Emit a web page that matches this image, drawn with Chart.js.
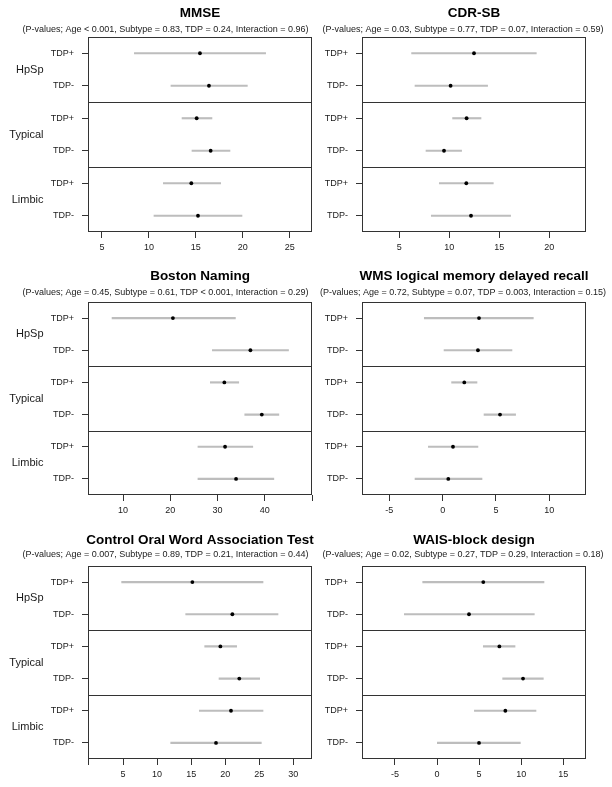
<!DOCTYPE html>
<html><head><meta charset="utf-8">
<script src="https://cdn.jsdelivr.net/npm/chart.js@4.4.1/dist/chart.umd.min.js"></script>
<style>
html,body{margin:0;padding:0;background:#fff;}
body{width:612px;height:787px;position:relative;overflow:hidden;}
canvas{position:absolute;}
</style></head><body>
<canvas id="c0" width="320" height="262" style="left:0;top:0"></canvas>
<canvas id="c1" width="292" height="262" style="left:320px;top:0"></canvas>
<canvas id="c2" width="320" height="262" style="left:0;top:262px"></canvas>
<canvas id="c3" width="292" height="262" style="left:320px;top:262px"></canvas>
<canvas id="c4" width="320" height="263" style="left:0;top:524px"></canvas>
<canvas id="c5" width="292" height="263" style="left:320px;top:524px"></canvas>
<script>
// ---------- data ----------
const rowLabels = ['TDP+', 'TDP-', 'TDP+', 'TDP-', 'TDP+', 'TDP-'];
const groupLabels = ['HpSp', 'Typical', 'Limbic'];

const mmseTitle = 'MMSE';
const mmseP = '(P-values; Age < 0.001, Subtype = 0.83, TDP = 0.24, Interaction = 0.96)';
const mmseMean = [15.44, 16.40, 15.09, 16.58, 14.52, 15.23];
const mmseLow  = [8.45, 12.35, 13.53, 14.59, 11.54, 10.54];
const mmseHigh = [22.44, 20.49, 16.72, 18.64, 17.65, 19.92];
const mmseTicks = [5, 10, 15, 20, 25];
const mmseTickLabels = ['5', '10', '15', '20', '25'];
const mmseRange = [3.51, 27.38];

const cdrTitle = 'CDR-SB';
const cdrP = '(P-values; Age = 0.03, Subtype = 0.77, TDP = 0.07, Interaction = 0.59)';
const cdrMean = [12.47, 10.13, 11.73, 9.47, 11.70, 12.17];
const cdrLow  = [6.23, 6.57, 10.33, 7.67, 9.00, 8.20];
const cdrHigh = [18.70, 13.83, 13.17, 11.23, 14.40, 16.13];
const cdrTicks = [5, 10, 15, 20];
const cdrTickLabels = ['5', '10', '15', '20'];
const cdrRange = [1.27, 23.67];

const bntTitle = 'Boston Naming';
const bntP = '(P-values; Age = 0.45, Subtype = 0.61, TDP < 0.001, Interaction = 0.29)';
const bntMean = [20.55, 36.96, 31.44, 39.37, 31.59, 33.92];
const bntLow  = [7.66, 28.90, 28.47, 35.76, 25.85, 25.85];
const bntHigh = [33.78, 45.03, 34.49, 42.98, 37.46, 41.92];
const bntTicks = [10, 20, 30, 40, 50];
const bntTickLabels = ['10', '20', '30', '40', ''];
const bntRange = [2.57, 50];

const wmsTitle = 'WMS logical memory delayed recall';
const wmsP = '(P-values; Age = 0.72, Subtype = 0.07, TDP = 0.003, Interaction = 0.15)';
const wmsMean = [3.41, 3.31, 2.03, 5.38, 0.97, 0.53];
const wmsLow  = [-1.72, 0.13, 0.84, 3.88, -1.34, -2.59];
const wmsHigh = [8.50, 6.50, 3.22, 6.84, 3.31, 3.69];
const wmsTicks = [-5, 0, 5, 10];
const wmsTickLabels = ['-5', '0', '5', '10'];
const wmsRange = [-7.56, 13.44];

const cowatTitle = 'Control Oral Word Association Test';
const cowatP = '(P-values; Age = 0.007, Subtype = 0.89, TDP = 0.21, Interaction = 0.44)';
const cowatMean = [15.18, 21.05, 19.29, 22.07, 20.85, 18.65];
const cowatLow  = [4.80, 14.20, 16.99, 19.09, 16.20, 12.00];
const cowatHigh = [25.55, 27.75, 21.68, 25.06, 25.55, 25.30];
const cowatTicks = [0, 5, 10, 15, 20, 25, 30];
const cowatTickLabels = ['', '5', '10', '15', '20', '25', '30'];
const cowatRange = [-0.14, 32.74];

const waisTitle = 'WAIS-block design';
const waisP = '(P-values; Age = 0.02, Subtype = 0.27, TDP = 0.29, Interaction = 0.18)';
const waisMean = [5.50, 3.80, 7.41, 10.22, 8.12, 4.99];
const waisLow  = [-1.70, -3.88, 5.50, 7.80, 4.44, 0.04];
const waisHigh = [12.71, 11.56, 9.27, 12.63, 11.76, 9.90];
const waisTicks = [-5, 0, 5, 10, 15];
const waisTickLabels = ['-5', '0', '5', '10', '15'];
const waisRange = [-8.91, 17.70];

// ---------- drawing ----------
const FONT = "'Liberation Sans', Arial, Helvetica, sans-serif";
const INK = '#1a1a1a';

const decorPlugin = {
  id: 'decor',
  afterDraw(chart, args, o) {
    const ctx = chart.ctx;
    const a = chart.chartArea;
    const y = chart.scales.y;
    ctx.save();
    ctx.strokeStyle = '#333';
    ctx.lineWidth = 1;
    const L = Math.round(a.left) + 0.5, R = Math.round(a.right) - 0.5;
    const T = Math.round(a.top) + 0.5, B = Math.round(a.bottom) - 0.5;
    ctx.strokeRect(L, T, R - L, B - T);
    for (let g = 1; g < groupLabels.length; g++) {
      const py = Math.round(y.getPixelForValue(2 * g - 0.5)) + 0.5;
      ctx.beginPath(); ctx.moveTo(L, py); ctx.lineTo(R, py); ctx.stroke();
    }
    ctx.fillStyle = INK;
    if (o.groups) {
      ctx.font = '11px ' + FONT;
      ctx.textAlign = 'right';
      ctx.textBaseline = 'middle';
      groupLabels.forEach((lab, g) => {
        ctx.fillText(lab, a.left - o.groupGap, y.getPixelForValue(2 * g + 0.5));
      });
    }
    const cx = (a.left + a.right) / 2;
    ctx.textAlign = 'center';
    ctx.textBaseline = 'middle';
    ctx.fillStyle = '#000';
    ctx.font = 'bold 13.5px ' + FONT;
    ctx.fillText(o.title, cx, o.titleY);
    ctx.font = '9px ' + FONT;
    ctx.fillStyle = INK;
    ctx.fillText(o.sub, cx + o.subDx, o.subY);
    ctx.restore();
  }
};

function makePanel(id, title, sub, mean, low, high, ticks, tickLabels, range, lay) {
  const isLeft = lay.left;
  new Chart(document.getElementById(id), {
    data: {
      labels: rowLabels,
      datasets: [
        {
          type: 'line', data: mean, showLine: false,
          pointRadius: 1.9, pointHoverRadius: 1.9, pointBorderWidth: 0,
          pointBackgroundColor: '#000', pointBorderColor: '#000', order: 0
        },
        {
          type: 'bar', data: low.map((v, i) => [v, high[i]]),
          backgroundColor: '#bdbdbd', borderWidth: 0, barThickness: 1.5, order: 1
        }
      ]
    },
    options: {
      indexAxis: 'y',
      responsive: false,
      animation: false,
      events: [],
      layout: { padding: { top: lay.top, bottom: lay.bottom, left: 0, right: isLeft ? 8 : 26 } },
      plugins: {
        legend: { display: false },
        tooltip: { enabled: false },
        decor: {
          title: title, sub: sub, titleY: lay.titleY, subY: lay.subY,
          subDx: isLeft ? -34.5 : -11, groups: isLeft, groupGap: 44.5
        }
      },
      scales: {
        y: {
          type: 'category',
          offset: true,
          border: { display: false },
          grid: { drawOnChartArea: false, offset: false, tickLength: 6, tickColor: '#333', tickWidth: 1 },
          ticks: { color: INK, font: { family: FONT, size: 9 }, padding: 8 },
          afterFit: (s) => { s.width = isLeft ? 88 : 42; }
        },
        x: {
          type: 'linear',
          min: range[0], max: range[1],
          border: { display: false },
          grid: { drawOnChartArea: false, tickLength: 6, tickColor: '#333', tickWidth: 1 },
          afterBuildTicks: (s) => { s.ticks = ticks.map(v => ({ value: v })); },
          ticks: {
            autoSkip: false, maxRotation: 0, includeBounds: false,
            color: INK, font: { family: FONT, size: 9 }, padding: 4,
            callback: (v, i) => tickLabels[i]
          },
          afterFit: (s) => { s.height = 24; }
        }
      }
    },
    plugins: [decorPlugin]
  });
}

const row1 = { top: 37, bottom: 6, titleY: 13.3, subY: 29.3 };
const row2 = { top: 40, bottom: 5, titleY: 14.7, subY: 30.7 };
const row3 = { top: 42, bottom: 4, titleY: 16, subY: 31 };

makePanel('c0', mmseTitle, mmseP, mmseMean, mmseLow, mmseHigh, mmseTicks, mmseTickLabels, mmseRange, { ...row1, left: true });
makePanel('c1', cdrTitle, cdrP, cdrMean, cdrLow, cdrHigh, cdrTicks, cdrTickLabels, cdrRange, { ...row1, left: false });
makePanel('c2', bntTitle, bntP, bntMean, bntLow, bntHigh, bntTicks, bntTickLabels, bntRange, { ...row2, left: true });
makePanel('c3', wmsTitle, wmsP, wmsMean, wmsLow, wmsHigh, wmsTicks, wmsTickLabels, wmsRange, { ...row2, left: false });
makePanel('c4', cowatTitle, cowatP, cowatMean, cowatLow, cowatHigh, cowatTicks, cowatTickLabels, cowatRange, { ...row3, left: true });
makePanel('c5', waisTitle, waisP, waisMean, waisLow, waisHigh, waisTicks, waisTickLabels, waisRange, { ...row3, left: false });
</script>
</body></html>
